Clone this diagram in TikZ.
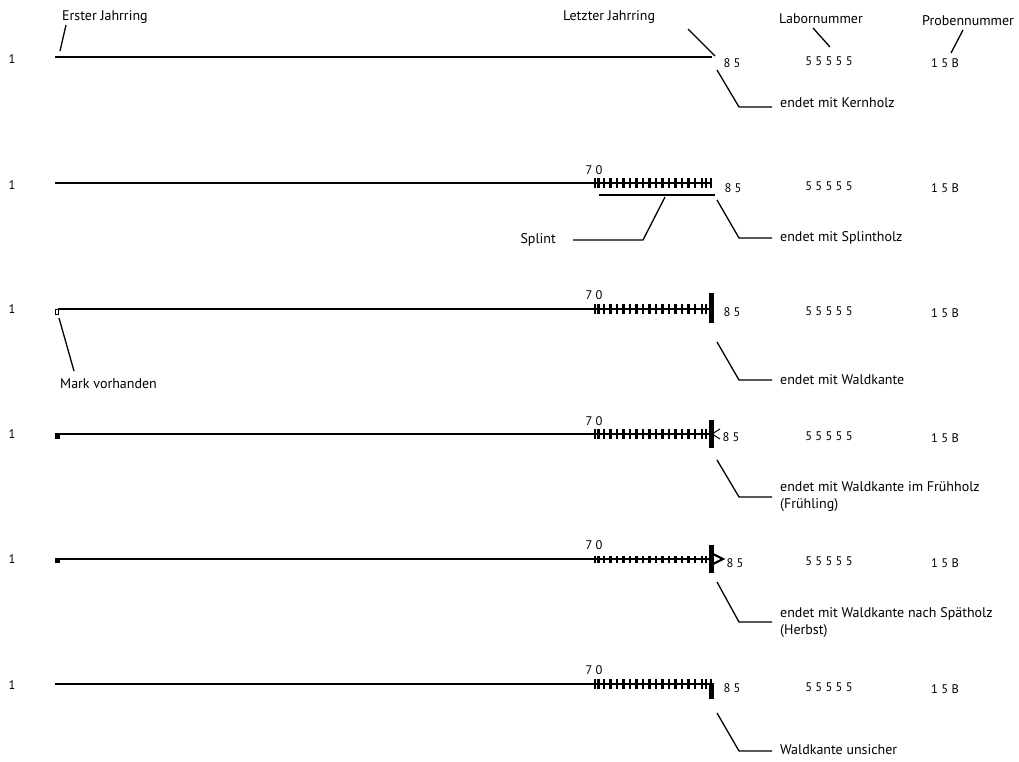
\documentclass[tikz,border=0pt]{standalone}
\usepackage{fontspec}
\setmainfont{PT Sans}
\newcommand\myticks[2]{\foreach \x in {595,598.5,604,610.5,...,698,702,706}{\draw[tickmark] ({\x},{#1-#2}) -- ({\x},{#1+#2});}}
\begin{document}
\begin{tikzpicture}[x=1pt,y=-1pt,
  core/.style={line width=2.9pt},
  lead/.style={line width=1.3pt},
  tickmark/.style={line width=2.3pt},
  lab/.style={anchor=west,inner sep=0pt,font=\fontsize{14}{17}\selectfont},
  num/.style={inner sep=0pt,font=\fontsize{12.5}{14}\selectfont},
  bar/.style={fill=black,draw=none}]
\useasboundingbox[fill=white] (0,0) rectangle (1019,762);

% ---------- header labels ----------
\node[lab] (erster) at (62,17) {Erster Jahrring};
\node[lab] (letzter) at (563,17) {Letzter Jahrring};
\node[lab] (labor) at (779,19) {Labornummer};
\node[lab] (probe) at (922,21) {Probennummer};

% ---------- row 1 ----------
\node[num] (one1) at (12,59) {1};
\coordinate (s1) at (55,57); \coordinate (e1) at (712,57);
\draw[core] (s1) -- (e1);
\node[num] (ef1) at (732,63) {8 5};
\node[num] (lb1) at (829,61) {5 5 5 5 5};
\node[num] (pb1) at (945,63) {1 5 B};
\coordinate (ersterA) at (66,25); \coordinate (ersterB) at (60,51);
\draw[lead] (ersterA) -- (ersterB);
\coordinate (letzA) at (688,29); \coordinate (letzB) at (715,56);
\draw[lead] (letzA) -- (letzB);
\coordinate (labA) at (813,28); \coordinate (labB) at (830,47);
\draw[lead] (labA) -- (labB);
\coordinate (probA) at (963,30); \coordinate (probB) at (951,53);
\draw[lead] (probA) -- (probB);
\coordinate (r1a) at (717,70); \coordinate (r1b) at (739,107); \coordinate (r1c) at (772,107);
\draw[lead] (r1a) -- (r1b) -- (r1c);
\node[lab] (t1) at (780,103) {endet mit Kernholz};

% ---------- row 2 ----------
\node[num] (one2) at (12,185) {1};
\coordinate (s2) at (55,183); \coordinate (e2) at (711,183);
\draw[core] (s2) -- (e2);
\myticks{183}{5}
\draw[tickmark] (711,178) -- (711,188);
\node[num] (sv2) at (594,170) {7 0};
\node[num] (ef2) at (733,188) {8 5};
\node[num] (lb2) at (829,186) {5 5 5 5 5};
\node[num] (pb2) at (945,188) {1 5 B};
\coordinate (spA) at (599,195); \coordinate (spB) at (715,195);
\draw[lead] (spA) -- (spB);
\coordinate (sl1) at (665,197); \coordinate (sl2) at (643,240); \coordinate (sl3) at (573,240);
\draw[lead] (sl1) -- (sl2) -- (sl3);
\node[lab,anchor=east] (splint) at (556,240) {Splint};
\coordinate (r2a) at (717,200); \coordinate (r2b) at (739,238); \coordinate (r2c) at (772,238);
\draw[lead] (r2a) -- (r2b) -- (r2c);
\node[lab] (t2) at (780,238) {endet mit Splintholz};

% ---------- row 3 ----------
\node[num] (one3) at (12,309) {1};
\coordinate (s3) at (58,309); \coordinate (e3) at (711,309);
\draw[core] (s3) -- (e3);
\draw[line width=0.9pt,fill=white] (55,309) rectangle (58.5,314);
\myticks{309}{5}
\draw[bar] (708.5,293) rectangle (713.5,323);
\node[num] (sv3) at (594,295) {7 0};
\node[num] (ef3) at (732,312) {8 5};
\node[num] (lb3) at (829,311) {5 5 5 5 5};
\node[num] (pb3) at (945,313) {1 5 B};
\coordinate (mkA) at (59,318); \coordinate (mkB) at (74,371);
\draw[lead] (mkA) -- (mkB);
\node[lab] (mark) at (60,384) {Mark vorhanden};
\coordinate (r3a) at (717,342); \coordinate (r3b) at (739,380); \coordinate (r3c) at (772,380);
\draw[lead] (r3a) -- (r3b) -- (r3c);
\node[lab] (t3) at (780,380) {endet mit Waldkante};

% ---------- row 4 ----------
\node[num] (one4) at (12,434) {1};
\coordinate (s4) at (55,434); \coordinate (e4) at (711,434);
\draw[core] (s4) -- (e4);
\draw[bar] (55,433) rectangle (59.5,438.5);
\myticks{434}{5}
\draw[bar] (708.5,420) rectangle (713.5,448);
\coordinate (fa) at (720,429); \coordinate (fb) at (712,434); \coordinate (fc) at (720,439);
\draw[line width=1pt] (fa) -- (fb) -- (fc);
\node[num] (sv4) at (594,421) {7 0};
\node[num] (ef4) at (731,437) {8 5};
\node[num] (lb4) at (829,436) {5 5 5 5 5};
\node[num] (pb4) at (945,438) {1 5 B};
\coordinate (r4a) at (717,460); \coordinate (r4b) at (739,497); \coordinate (r4c) at (772,497);
\draw[lead] (r4a) -- (r4b) -- (r4c);
\node[lab,align=left,anchor=north west] (t4) at (780,481) {endet mit Waldkante im Fr\"uhholz\\(Fr\"uhling)};

% ---------- row 5 ----------
\node[num] (one5) at (12,559) {1};
\coordinate (s5) at (55,559); \coordinate (e5) at (711,559);
\draw[core] (s5) -- (e5);
\draw[bar] (55,558) rectangle (59.5,563);
\myticks{559}{3.5}
\draw[bar] (708.5,545) rectangle (713.5,573);
\coordinate (ha) at (712,553.5); \coordinate (hb) at (723,559); \coordinate (hc) at (712,564.5);
\draw[line width=2.2pt,line join=miter] (ha) -- (hb) -- (hc) -- cycle;
\node[num] (sv5) at (594,545) {7 0};
\node[num] (ef5) at (735,563) {8 5};
\node[num] (lb5) at (829,561) {5 5 5 5 5};
\node[num] (pb5) at (945,563) {1 5 B};
\coordinate (r5a) at (717,582); \coordinate (r5b) at (739,622); \coordinate (r5c) at (772,622);
\draw[lead] (r5a) -- (r5b) -- (r5c);
\node[lab,align=left,anchor=north west] (t5) at (780,607) {endet mit Waldkante nach Sp\"atholz\\(Herbst)};

% ---------- row 6 ----------
\node[num] (one6) at (12,685) {1};
\coordinate (s6) at (55,684); \coordinate (e6) at (711,684);
\draw[core] (s6) -- (e6);
\myticks{684}{5}
\draw[tickmark] (711,679) -- (711,689);
\draw[bar] (709,683) rectangle (714,699);
\node[num] (sv6) at (594,670) {7 0};
\node[num] (ef6) at (732,688) {8 5};
\node[num] (lb6) at (829,687) {5 5 5 5 5};
\node[num] (pb6) at (945,689) {1 5 B};
\coordinate (r6a) at (717,713); \coordinate (r6b) at (739,751); \coordinate (r6c) at (772,751);
\draw[lead] (r6a) -- (r6b) -- (r6c);
\node[lab] (t6) at (780,750) {Waldkante unsicher};
\end{tikzpicture}
\end{document}
